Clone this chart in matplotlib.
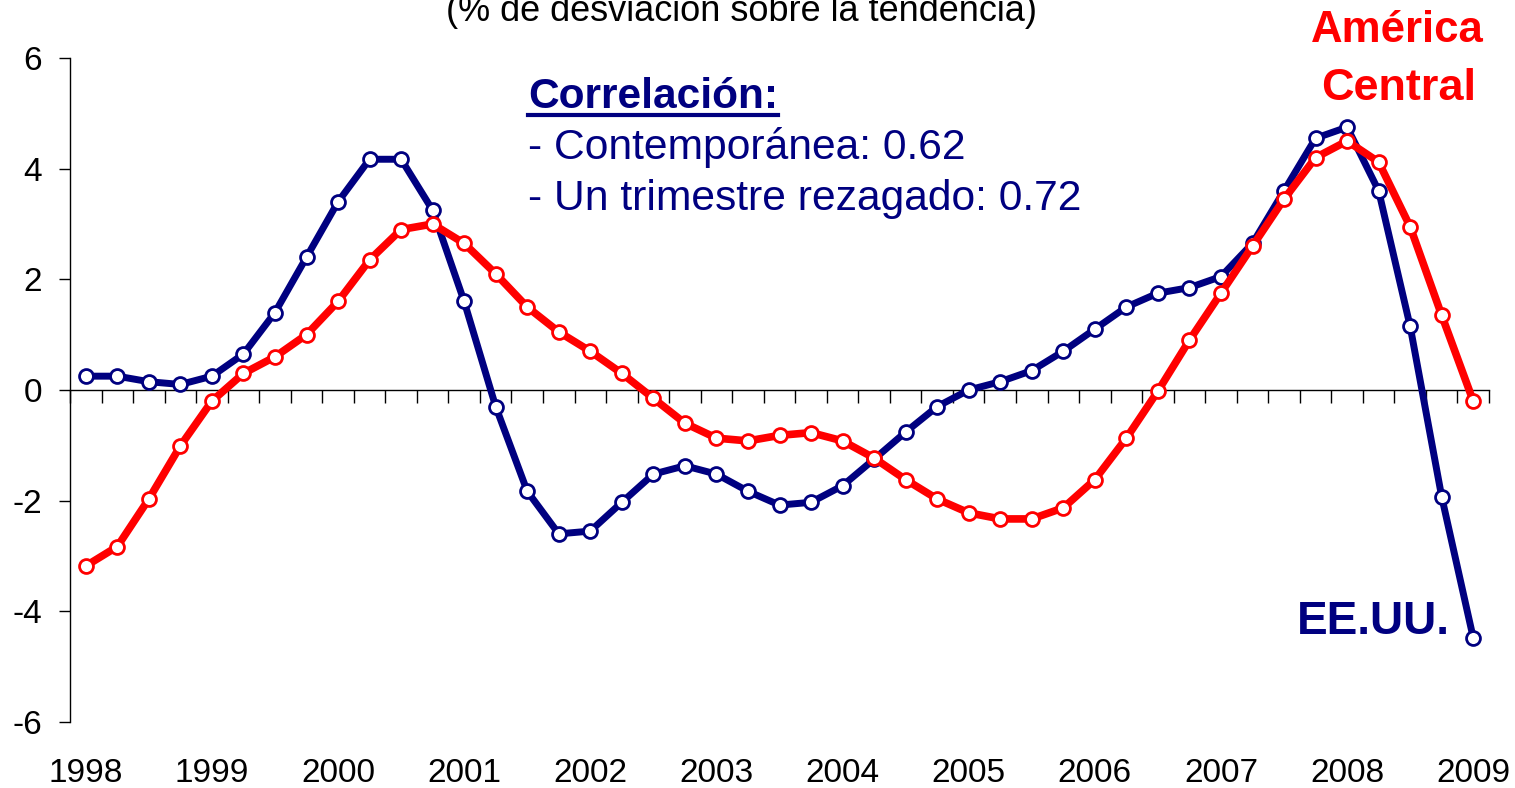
import matplotlib
matplotlib.use("Agg")
import matplotlib.pyplot as plt
from matplotlib.lines import Line2D

plt.rcParams['font.family'] = ['Liberation Sans', 'DejaVu Sans']

years = ['1998', '1999', '2000', '2001', '2002', '2003', '2004', '2005',
         '2006', '2007', '2008', '2009']

eeuu = [0.25, 0.25, 0.15, 0.1, 0.25, 0.65, 1.4, 2.4, 3.4, 4.17, 4.17, 3.25,
        1.6, -0.3, -1.83, -2.6, -2.55, -2.03, -1.52, -1.37, -1.52, -1.83,
        -2.08, -2.03, -1.73, -1.25, -0.76, -0.3, 0.0, 0.15, 0.35, 0.7,
        1.1, 1.5, 1.75, 1.85, 2.05, 2.65, 3.6, 4.55, 4.75, 3.6, 1.15,
        -1.93, -4.48]

america_central = [-3.18, -2.83, -1.97, -1.01, -0.2, 0.3, 0.6, 1.0, 1.6, 2.35,
                   2.9, 3.0, 2.65, 2.1, 1.5, 1.05, 0.7, 0.3, -0.15, -0.6,
                   -0.87, -0.92, -0.82, -0.77, -0.92, -1.23, -1.62, -1.97,
                   -2.22, -2.33, -2.33, -2.13, -1.62, -0.87, -0.02, 0.9, 1.75,
                   2.6, 3.45, 4.2, 4.5, 4.12, 2.95, 1.35, -0.2]

NAVY = '#000080'
RED = '#FF0000'

W, H = 1515, 788
fig = plt.figure(figsize=(W / 100, H / 100), dpi=100)
ax = fig.add_axes([70 / W, 1 - 722 / H, (1489 - 70) / W, (722 - 58) / H])

n = len(eeuu)
x = list(range(n))

ax.plot(x, eeuu, color=NAVY, lw=5.0, marker='o', ms=10, mfc='white',
        mec=NAVY, mew=2.0, zorder=3, clip_on=False)
ax.plot(x, america_central, color=RED, lw=5.5, marker='o', ms=10, mfc='white',
        mec=RED, mew=2.0, zorder=4, clip_on=False)

ax.set_xlim(-0.5, n - 0.5)
ax.set_ylim(-6, 6)
ax.set_yticks([-6, -4, -2, 0, 2, 4, 6])
ax.set_yticklabels(['-6', '-4', '-2', '0', '2', '4', '6'])
ax.tick_params(axis='y', direction='out', length=8, width=1, pad=12,
               labelsize=24, color='black')

for s in ['top', 'right']:
    ax.spines[s].set_visible(False)
ax.spines['left'].set_linewidth(1)
ax.spines['bottom'].set_position(('data', 0))
ax.spines['bottom'].set_linewidth(1)
ax.set_xticks([i - 0.5 for i in range(n + 1)])
ax.set_xticklabels([])
ax.tick_params(axis='x', direction='out', length=9, width=1)

sec = ax.secondary_xaxis('bottom')
sec.set_xticks([4 * i for i in range(len(years))])
sec.set_xticklabels(years)
sec.tick_params(length=0, pad=26, labelsize=24)
sec.spines['bottom'].set_visible(False)

# partially visible subtitle
fig.text(741 / W, 1 - 21 / H, '(% de desviación sobre la tendencia)',
         ha='center', va='baseline', fontsize=26, color='black')

# correlation box
t1 = fig.text(528 / W, 1 - 97 / H, 'Correlación:', ha='left', va='center',
              fontsize=30.6, fontweight='bold', color=NAVY)
fig.text(528 / W, 1 - 147 / H, '- Contemporánea: 0.62', ha='left',
         va='center', fontsize=30.7, color=NAVY)
fig.text(528 / W, 1 - 199 / H, '- Un trimestre rezagado: 0.72', ha='left',
         va='center', fontsize=30.7, color=NAVY)

fig.canvas.draw()
bb = t1.get_window_extent()
uy = 1 - 115 / H
fig.add_artist(Line2D([bb.x0 / W, bb.x1 / W], [uy, uy], color=NAVY, lw=3,
                      transform=fig.transFigure))

fig.text(1397 / W, 1 - 30 / H, 'América', ha='center', va='center',
         fontsize=31.5, fontweight='bold', color=RED)
fig.text(1399 / W, 1 - 88 / H, 'Central', ha='center', va='center',
         fontsize=32.5, fontweight='bold', color=RED)
fig.text(1450 / W, 1 - 622 / H, 'EE.UU.', ha='right', va='center',
         fontsize=33, fontweight='bold', color=NAVY)

fig.savefig('out.png', dpi=100)
